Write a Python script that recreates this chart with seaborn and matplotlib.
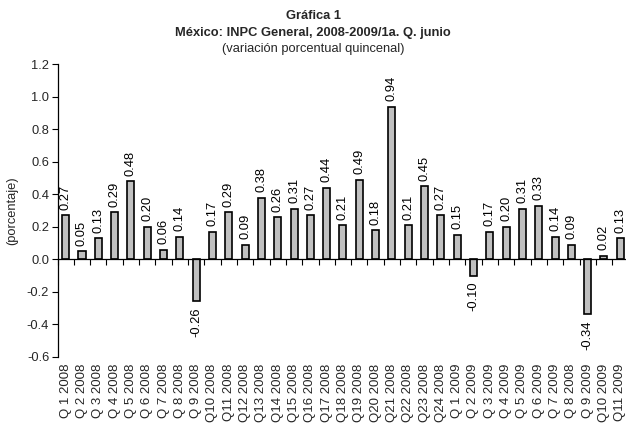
import numpy as np
import pandas as pd
import matplotlib
matplotlib.use("Agg")
import matplotlib.pyplot as plt
from matplotlib.ticker import FixedLocator, NullLocator
import seaborn as sns

# Quincenas (fortnights) as printed on the axis
periods = [
    "Q 1 2008", "Q 2 2008", "Q 3 2008", "Q 4 2008", "Q 5 2008", "Q 6 2008",
    "Q 7 2008", "Q 8 2008", "Q 9 2008", "Q10 2008", "Q11 2008", "Q12 2008",
    "Q13 2008", "Q14 2008", "Q15 2008", "Q16 2008", "Q17 2008", "Q18 2008",
    "Q19 2008", "Q20 2008", "Q21 2008", "Q22 2008", "Q23 2008", "Q24 2008",
    "Q 1 2009", "Q 2 2009", "Q 3 2009", "Q 4 2009", "Q 5 2009", "Q 6 2009",
    "Q 7 2009", "Q 8 2008", "Q 9 2009", "Q10 2009", "Q11 2009",
]

# Fortnightly percentage change of the general INPC
variation = [
    0.27, 0.05, 0.13, 0.29, 0.48, 0.20, 0.06, 0.14, -0.26, 0.17, 0.29, 0.09,
    0.38, 0.26, 0.31, 0.27, 0.44, 0.21, 0.49, 0.18, 0.94, 0.21, 0.45, 0.27,
    0.15, -0.10, 0.17, 0.20, 0.31, 0.33, 0.14, 0.09, -0.34, 0.02, 0.13,
]

y_ticks = [-0.6, -0.4, -0.2, 0.0, 0.2, 0.4, 0.6, 0.8, 1.0, 1.2]

sns.set_theme(style="white")
plt.rcParams["font.family"] = ["Liberation Sans", "DejaVu Sans"]
plt.rcParams["axes.unicode_minus"] = False

df = pd.DataFrame({"pos": np.arange(len(periods)), "value": variation})

fig = plt.figure(figsize=(6.26, 4.30), dpi=100)
ax = fig.add_axes([0.0919, 0.1705, 0.912, 0.6795])

sns.barplot(data=df, x="pos", y="value", color="#C0C0C0", saturation=1,
            edgecolor="black", linewidth=1.2, width=0.43, ax=ax)

ax.bar_label(ax.containers[0], fmt="%.2f", rotation=90, padding=4,
             fontsize=9.3, color="black")

ax.set_xlim(-0.5, len(periods) - 0.5)
ax.set_ylim(-0.6, 1.2)
ax.yaxis.set_major_locator(FixedLocator(y_ticks))
ax.set_yticklabels([f"{t:.1f}" for t in y_ticks], fontsize=9.3)
ax.tick_params(axis="y", length=4, width=0.8, color="black", direction="out",
               left=True, pad=2)

# Category axis line sits at zero, with tick marks between categories
ax.spines["bottom"].set_position(("data", 0))
ax.spines["bottom"].set_color("black")
ax.spines["bottom"].set_linewidth(0.9)
ax.xaxis.set_major_locator(NullLocator())
ax.xaxis.set_minor_locator(FixedLocator(np.arange(len(periods) + 1) - 0.5))
ax.tick_params(axis="x", which="minor", length=4, width=0.8, color="black",
               direction="out", bottom=True, labelbottom=False)

# Category names hang below the plotting area
lab = ax.secondary_xaxis(0.0)
lab.set_xticks(df["pos"])
lab.set_xticklabels(periods)
lab.tick_params(axis="x", length=0, pad=5, labelrotation=90, labelsize=9.5)
lab.spines["bottom"].set_visible(False)

for side in ("top", "right"):
    ax.spines[side].set_visible(False)
ax.spines["left"].set_color("black")
ax.spines["left"].set_linewidth(0.9)

ax.set_xlabel("")
ax.set_ylabel("(porcentaje)", fontsize=9.3, labelpad=6)

fig.text(0.5, 0.962, "Gráfica 1", ha="center", va="center",
         fontsize=9.3, fontweight="bold")
fig.text(0.5, 0.923, "México: INPC General, 2008-2009/1a. Q. junio",
         ha="center", va="center", fontsize=9.3, fontweight="bold")
fig.text(0.5, 0.886, "(variación porcentual quincenal)", ha="center",
         va="center", fontsize=9.3)

fig.savefig("out.png", dpi=100)
